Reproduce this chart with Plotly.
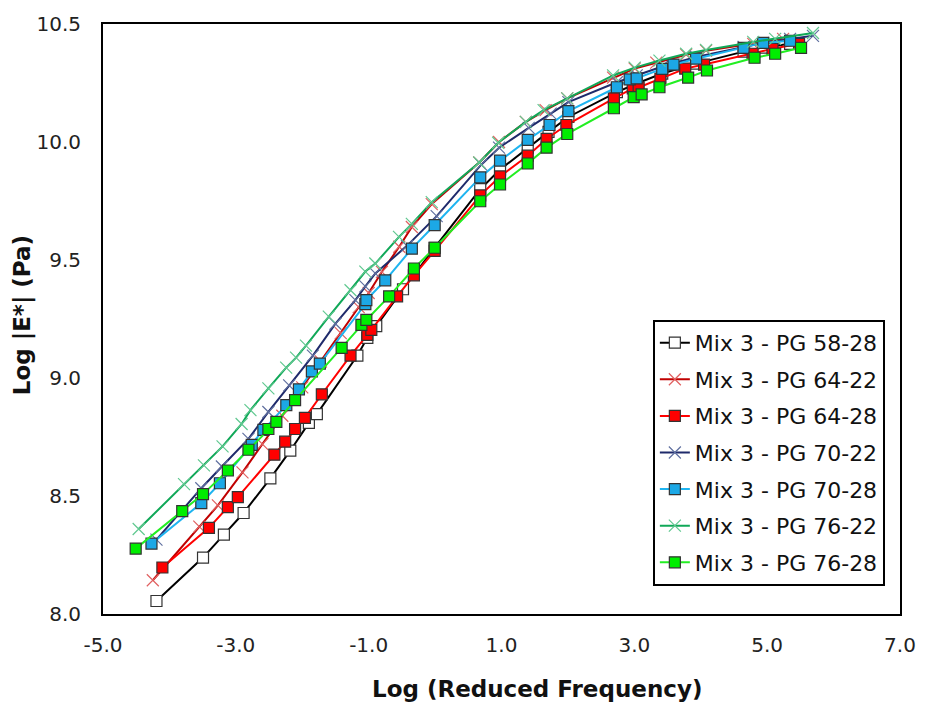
import plotly.graph_objects as go

# ---- data (Log reduced frequency, Log |E*| Pa) ----
names = ["Mix 3 - PG 58-28", "Mix 3 - PG 64-22", "Mix 3 - PG 64-28",
         "Mix 3 - PG 70-22", "Mix 3 - PG 70-28", "Mix 3 - PG 76-22",
         "Mix 3 - PG 76-28"]

x_5828 = [-4.195, -3.494, -3.18, -2.883, -2.48, -2.18, -1.90, -1.78, -1.17, -1.02,
          -0.886, -0.483, -0.006, 0.68, 0.978, 1.395, 1.708, 2.007, 2.737, 3.035,
          3.42, 3.93, 4.645, 4.94, 5.345]
y_5828 = [8.055, 8.239, 8.336, 8.428, 8.575, 8.692, 8.81, 8.847, 9.095, 9.17,
          9.22, 9.376, 9.552, 9.80, 9.883, 9.976, 10.043, 10.106, 10.211, 10.248,
          10.29, 10.332, 10.383, 10.40, 10.416]

x_6422 = [-4.25, -3.55, -3.27, -2.9, -2.6, -2.3, -2.0, -1.72, -1.42, -1.15, -1.0,
          -0.8, -0.54, -0.35, -0.05, 0.665, 0.963, 1.366, 1.664, 1.99, 2.68, 3.005,
          3.33, 3.78, 4.08, 4.79, 5.24]
y_6422 = [8.143, 8.37, 8.46, 8.60, 8.72, 8.84, 8.96, 9.07, 9.19, 9.30, 9.36,
          9.45, 9.556, 9.64, 9.737, 9.913, 10.0, 10.085, 10.135, 10.185, 10.273, 10.311,
          10.336, 10.37, 10.387, 10.416, 10.437]

x_6428 = [-4.106, -3.405, -3.12, -2.97, -2.42, -2.257, -2.108, -1.96, -1.705, -1.273,
          -1.02, -0.96, -0.572, -0.319, -0.006, 0.68, 0.978, 1.395, 1.679, 1.977,
          2.692, 2.976, 3.065, 3.393, 3.766, 4.05, 4.78, 5.08, 5.48]
y_6428 = [8.197, 8.365, 8.453, 8.495, 8.675, 8.73, 8.784, 8.831, 8.931, 9.095,
          9.183, 9.204, 9.346, 9.435, 9.539, 9.774, 9.854, 9.942, 10.013, 10.072,
          10.185, 10.227, 10.231, 10.269, 10.311, 10.328, 10.374, 10.395, 10.416]

x_7022 = [-4.195, -3.52, -3.21, -2.81, -2.51, -2.197, -1.84, -1.5, -1.2, -1.05, -0.90,
          -0.424, 0.024, 0.695, 0.963, 1.41, 1.74, 2.007, 2.737, 3.035, 3.42, 3.93,
          4.645, 4.94, 5.345, 5.69]
y_7022 = [8.315, 8.533, 8.625, 8.742, 8.856, 8.969, 9.095, 9.23, 9.33, 9.388, 9.443,
          9.56, 9.686, 9.904, 9.976, 10.06, 10.12, 10.169, 10.253, 10.282, 10.32, 10.36,
          10.403, 10.42, 10.437, 10.45]

x_7028 = [-4.27, -3.52, -3.24, -2.76, -2.585, -2.24, -2.05, -1.855, -1.735, -1.05,
          -1.035, -0.75, -0.35, -0.006, 0.68, 0.978, 1.395, 1.723, 2.007, 2.737,
          2.93, 3.035, 3.42, 3.59, 3.93, 4.645, 4.94, 5.345]
y_7028 = [8.298, 8.47, 8.554, 8.717, 8.78, 8.885, 8.952, 9.028, 9.061, 9.313,
          9.33, 9.414, 9.548, 9.648, 9.85, 9.921, 10.009, 10.072, 10.131, 10.232,
          10.265, 10.27, 10.31, 10.328, 10.353, 10.399, 10.42, 10.429]

x_7622 = [-4.463, -3.78, -3.48, -3.2, -2.913, -2.78, -2.51, -2.242, -2.093, -1.944,
          -1.6, -1.273, -1.05, -0.90, -0.543, -0.35, -0.05, 0.665, 0.95, 1.366, 1.634,
          1.99, 2.68, 3.005, 3.378, 3.78, 4.08, 4.79, 5.12, 5.69]
y_7622 = [8.36, 8.55, 8.63, 8.71, 8.805, 8.864, 8.956, 9.044, 9.086, 9.137,
          9.26, 9.372, 9.451, 9.485, 9.598, 9.653, 9.745, 9.913, 9.997, 10.085, 10.135,
          10.185, 10.282, 10.315, 10.345, 10.374, 10.39, 10.424, 10.437, 10.462]

x_7628 = [-4.508, -3.807, -3.494, -3.12, -2.81, -2.51, -2.39, -2.108, -1.407, -1.109,
          -1.035, -0.692, -0.319, -0.006, 0.68, 0.978, 1.395, 1.679, 1.99, 2.692,
          2.99, 3.11, 3.378, 3.81, 4.094, 4.81, 5.12, 5.51]
y_7628 = [8.277, 8.436, 8.508, 8.608, 8.696, 8.784, 8.814, 8.906, 9.128, 9.225,
          9.246, 9.346, 9.464, 9.552, 9.749, 9.82, 9.909, 9.976, 10.034, 10.143,
          10.19, 10.202, 10.232, 10.273, 10.303, 10.357, 10.374, 10.399]

x_ticks = [-5.0, -3.0, -1.0, 1.0, 3.0, 5.0, 7.0]
y_ticks = [8.0, 8.5, 9.0, 9.5, 10.0, 10.5]
x_title = "Log (Reduced Frequency)"
y_title = "Log |E*| (Pa)"

series = [
    (x_5828, y_5828, "#000000", "square", "#FFFFFF", 11),
    (x_6422, y_6422, "#C00000", "x-thin", "#E06060", 12),
    (x_6428, y_6428, "#FF0000", "square", "#FF0000", 11),
    (x_7022, y_7022, "#1F2A6B", "x-thin", "#6070A0", 12),
    (x_7028, y_7028, "#1EB4F0", "square", "#1CA8E6", 11),
    (x_7622, y_7622, "#10A858", "x-thin", "#60C890", 12),
    (x_7628, y_7628, "#22EE22", "square", "#00EE00", 11),
]

FONT = "DejaVu Sans, Liberation Sans, Arial, sans-serif"

fig = go.Figure()
for i, (xs, ys, lc, sym, mc, ms) in enumerate(series):
    if sym == "square":
        marker = dict(symbol=sym, size=ms, color=mc,
                      line=dict(color="#333333", width=1.2))
    else:
        marker = dict(symbol=sym, size=ms, color=mc,
                      line=dict(color=mc, width=1.2))
    fig.add_trace(go.Scatter(x=xs, y=ys, mode="lines+markers", name=names[i],
                             legendgroup=str(i),
                             line=dict(color=lc, width=2), marker=marker))

fig.update_layout(
    width=928, height=708,
    margin=dict(l=103, r=20, t=18, b=94),
    paper_bgcolor="white", plot_bgcolor="white",
    font=dict(family=FONT, color="#222222", size=20),
    showlegend=True,
    legend=dict(x=0.981, y=0.4985, xanchor="right", yanchor="top",
                bordercolor="#000000", borderwidth=2, bgcolor="white",
                font=dict(size=22, color="#111111"), tracegroupgap=5,
                itemwidth=30),
    annotations=[
        dict(text=f"<b>{x_title}</b>", xref="paper", yref="paper",
             x=0.544, y=-0.1275, xanchor="center", yanchor="middle",
             showarrow=False, font=dict(size=23, color="#111111")),
        dict(text=f"<b>{y_title}</b>", xref="paper", yref="paper",
             x=-0.1, y=0.507, xanchor="center", yanchor="middle", textangle=-90,
             showarrow=False, font=dict(size=23, color="#111111")),
    ],
)
fig.update_xaxes(range=[-5, 7], tickvals=x_ticks,
                 ticktext=[f"{v:.1f}" for v in x_ticks],
                 showgrid=False, zeroline=False, showline=True, mirror=True,
                 linecolor="#000000", linewidth=2, ticks="", ticklabelstandoff=12)
fig.update_yaxes(range=[8, 10.5], tickvals=y_ticks,
                 ticktext=[f"{v:.1f}" for v in y_ticks],
                 showgrid=False, zeroline=False, showline=True, mirror=True,
                 linecolor="#000000", linewidth=2, ticks="", ticklabelstandoff=16)

fig.write_html("out.html")
